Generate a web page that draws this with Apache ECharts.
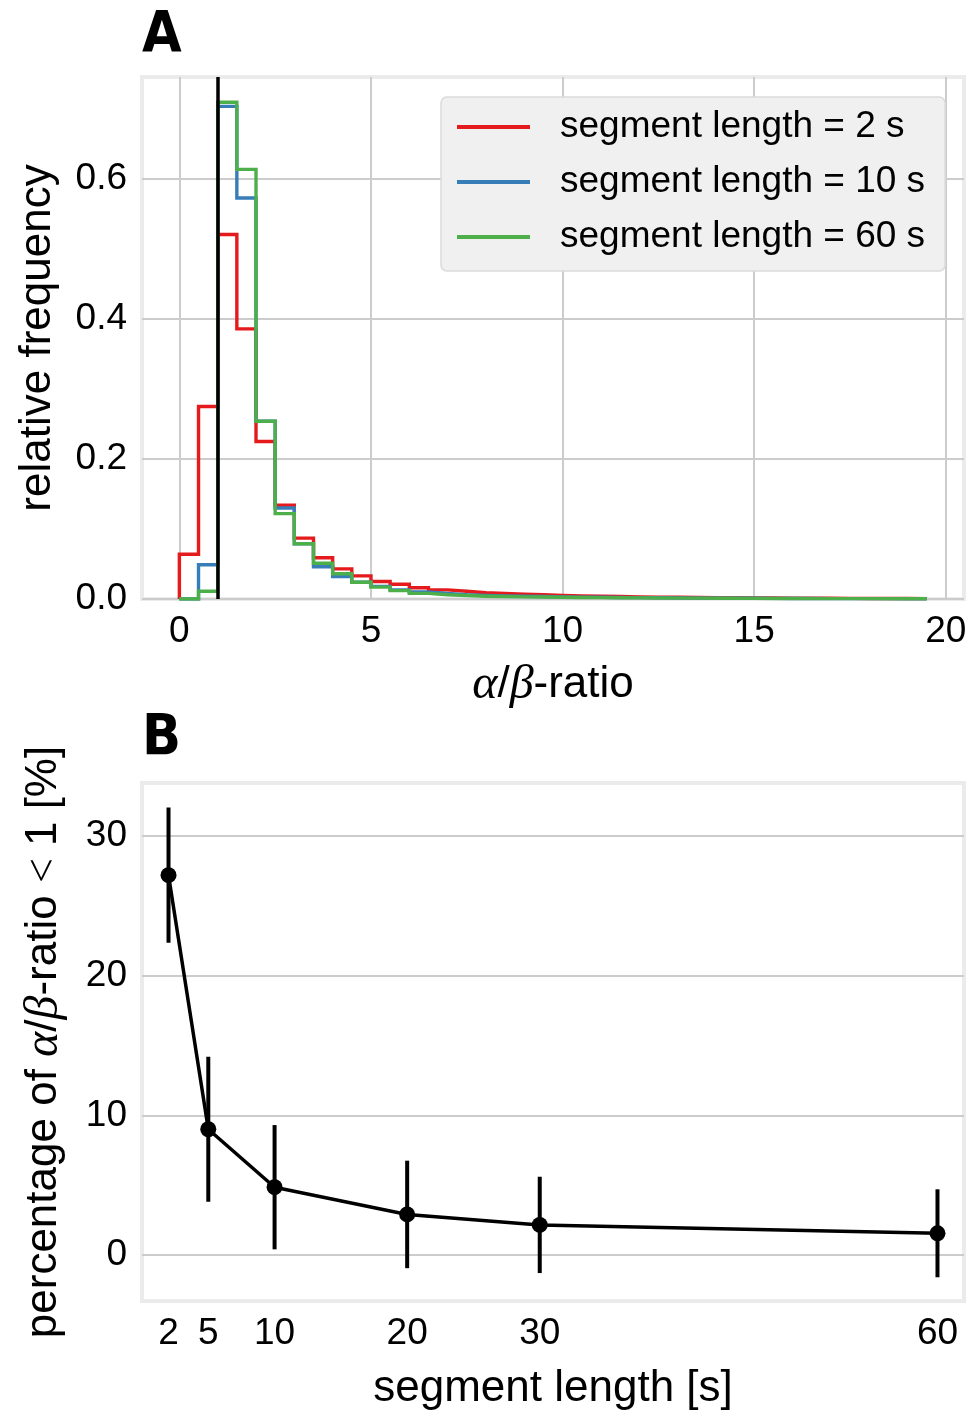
<!DOCTYPE html>
<html>
<head>
<meta charset="utf-8">
<script src="https://cdn.jsdelivr.net/npm/echarts@6/dist/echarts.min.js"></script>
<style>
  html, body { margin: 0; padding: 0; background: #fff; }
  #chart { width: 979px; height: 1412px; }
</style>
</head>
<body>
<div id="chart"></div>
<script>
// ---------- Panel A: histogram of alpha/beta ratio ----------
const binWidth = 0.5;
const binStart = 0;
const threshold = 1;
const seriesNames = ['segment length = 2 s', 'segment length = 10 s', 'segment length = 60 s'];
const seriesColors = ['#e41a1c', '#377eb8', '#4daf4a'];

const freq2s = [0.064, 0.275, 0.521, 0.386, 0.225, 0.134, 0.087, 0.059, 0.043, 0.033,
  0.025, 0.021, 0.016, 0.013, 0.011, 0.009, 0.008, 0.007, 0.006, 0.005,
  0.0045, 0.004, 0.0035, 0.003, 0.0027, 0.0024, 0.0021, 0.0019, 0.0017, 0.0015,
  0.0014, 0.0012, 0.0011, 0.001, 0.0009, 0.0008, 0.0007, 0.0007, 0.0006];
const freq10s = [0, 0.049, 0.704, 0.573, 0.254, 0.130, 0.079, 0.046, 0.032, 0.024,
  0.018, 0.013, 0.010, 0.008, 0.006, 0.005, 0.0045, 0.004, 0.0035, 0.003,
  0.0027, 0.0024, 0.0021, 0.0019, 0.0017, 0.0015, 0.0013, 0.0012, 0.0011, 0.001,
  0.0009, 0.0008, 0.0007, 0.0006, 0.0006, 0.0005, 0.0005, 0.0004, 0.0004];
const freq60s = [0, 0.011, 0.710, 0.614, 0.254, 0.122, 0.079, 0.051, 0.036, 0.024,
  0.017, 0.012, 0.008, 0.006, 0.005, 0.004, 0.0035, 0.003, 0.0028, 0.0025,
  0.0022, 0.002, 0.0018, 0.0016, 0.0014, 0.0013, 0.0012, 0.0011, 0.001, 0.0009,
  0.0008, 0.0007, 0.0006, 0.0006, 0.0005, 0.0005, 0.0004, 0.0004, 0.0003];

const histXTicks = [0, 5, 10, 15, 20];
const histYTicks = [0, 0.2, 0.4, 0.6];

// ---------- Panel B: percentage of ratio < 1 ----------
const segLengths = [2, 5, 10, 20, 30, 60];
const pctMean = [27.2, 9.0, 4.85, 2.9, 2.15, 1.55];
const pctStd = [4.85, 5.2, 4.45, 3.85, 3.45, 3.15];
const pctXTicks = [2, 5, 10, 20, 30, 60];
const pctYTicks = [0, 10, 20, 30];

// build step outlines (matplotlib histtype='step') from bins
function stepOutline(values) {
  const pts = [[binStart, 0]];
  values.forEach((v, i) => {
    const a = binStart + i * binWidth;
    pts.push([a, v]);
    pts.push([a + binWidth, v]);
  });
  pts.push([binStart + values.length * binWidth, 0]);
  return pts;
}

const FONT = '"Liberation Sans", Arial, Helvetica, sans-serif';
const MATH = '"Liberation Serif", "DejaVu Serif", serif';
const TICK = 37;
const LAB = 44;
const MLAB = 48;
const gridColor = '#cccccc';

const chart = echarts.init(document.getElementById('chart'), null, { renderer: 'canvas' });

const histSeries = [freq2s, freq10s, freq60s].map((vals, i) => ({
  name: seriesNames[i],
  type: 'line',
  xAxisIndex: 0,
  yAxisIndex: 0,
  data: stepOutline(vals),
  symbol: 'none',
  lineStyle: { color: seriesColors[i], width: 3.4, join: 'miter' },
  itemStyle: { color: seriesColors[i] },
  z: 3 + i,
  animation: false
}));

histSeries.push({
  type: 'line',
  xAxisIndex: 0,
  yAxisIndex: 0,
  data: [],
  z: 20,
  markLine: {
    silent: true,
    z: 30,
    symbol: 'none',
    label: { show: false },
    lineStyle: { color: '#000', width: 3.5, type: 'solid' },
    data: [{ xAxis: threshold }],
    animation: false
  }
});

const mathRich = {
  m: { fontFamily: MATH, fontStyle: 'italic', fontSize: MLAB, color: '#000' },
  s: { fontFamily: MATH, fontSize: LAB, color: '#000' }
};

const option = {
  animation: false,
  textStyle: { fontFamily: FONT },
  graphic: [
    { type: 'text', left: 142, top: 9, style: { text: 'A', font: 'bold 57px "DejaVu Sans Condensed", sans-serif', fill: '#000' } },
    { type: 'text', left: 142, top: 712, style: { text: 'B', font: 'bold 57px "DejaVu Sans Condensed", sans-serif', fill: '#000' } }
  ],
  grid: [
    { left: 142, top: 77, width: 822, height: 522, show: true, borderColor: '#ebebeb', borderWidth: 4, backgroundColor: 'transparent' },
    { left: 142, top: 783, width: 822, height: 520, show: true, borderColor: '#ebebeb', borderWidth: 4, backgroundColor: 'transparent' }
  ],
  legend: {
    data: seriesNames,
    orient: 'vertical',
    left: 441,
    top: 97,
    itemWidth: 73,
    itemHeight: 4,
    itemGap: 15,
    padding: [10, 20, 14, 16],
    backgroundColor: '#f0f0f0',
    borderColor: '#dadada',
    borderWidth: 1.5,
    borderRadius: 6,
    textStyle: { fontSize: TICK, fontFamily: FONT, color: '#000', lineHeight: 40, padding: [0, 0, 0, 25] },
    icon: 'rect',
    itemStyle: { borderWidth: 0 }
  },
  xAxis: [
    {
      type: 'value', gridIndex: 0, min: -0.975, max: 20.475,
      axisLine: { show: false }, 
      axisTick: { show: false, customValues: histXTicks },
      axisLabel: { customValues: histXTicks, fontSize: TICK, color: '#000', margin: 14, fontFamily: FONT },
      splitLine: { show: true, lineStyle: { color: gridColor, width: 2 } },
      name: '{m|α}/{m|β}-ratio', nameLocation: 'middle', nameGap: 62,
      nameTextStyle: { fontSize: LAB, color: '#000', fontFamily: FONT, rich: mathRich }
    },
    {
      type: 'value', gridIndex: 1, min: 0, max: 62,
      axisLine: { show: false },
      axisTick: { show: false, customValues: pctXTicks },
      axisLabel: { customValues: pctXTicks, fontSize: TICK, color: '#000', margin: 14, fontFamily: FONT },
      splitLine: { show: false },
      name: 'segment length [s]', nameLocation: 'middle', nameGap: 66,
      nameTextStyle: { fontSize: LAB, color: '#000', fontFamily: FONT }
    }
  ],
  yAxis: [
    {
      type: 'value', gridIndex: 0, min: 0, max: 0.746,
      axisLine: { show: false },
      axisTick: { show: false, customValues: histYTicks },
      axisLabel: { customValues: histYTicks, fontSize: TICK, color: '#000', margin: 15, fontFamily: FONT,
        formatter: v => v.toFixed(1) },
      splitLine: { show: true, lineStyle: { color: gridColor, width: 2 } },
      name: 'relative frequency', nameLocation: 'middle', nameGap: 82, nameRotate: 90,
      nameTextStyle: { fontSize: LAB, color: '#000', fontFamily: FONT }
    },
    {
      type: 'value', gridIndex: 1, min: -3.3, max: 33.8,
      axisLine: { show: false },
      axisTick: { show: false, customValues: pctYTicks },
      axisLabel: { customValues: pctYTicks, fontSize: TICK, color: '#000', margin: 15, fontFamily: FONT },
      splitLine: { show: true, lineStyle: { color: gridColor, width: 2 } },
      name: 'percentage of {m|α}/{m|β}-ratio {s|<} 1 [%]', nameLocation: 'middle', nameGap: 74, nameRotate: 90,
      nameTextStyle: { fontSize: LAB, color: '#000', fontFamily: FONT, rich: mathRich }
    }
  ],
  series: histSeries.concat([
    {
      type: 'custom',
      xAxisIndex: 1,
      yAxisIndex: 1,
      data: segLengths.map((x, i) => [x, pctMean[i] - pctStd[i], pctMean[i] + pctStd[i]]),
      encode: { x: 0, y: [1, 2] },
      renderItem: (params, api) => {
        const p1 = api.coord([api.value(0), api.value(1)]);
        const p2 = api.coord([api.value(0), api.value(2)]);
        return { type: 'line', shape: { x1: p1[0], y1: p1[1], x2: p2[0], y2: p2[1] },
          style: { stroke: '#000', lineWidth: 4 } };
      },
      z: 5,
      silent: true
    },
    {
      type: 'line',
      xAxisIndex: 1,
      yAxisIndex: 1,
      data: segLengths.map((x, i) => [x, pctMean[i]]),
      symbol: 'circle',
      symbolSize: 16,
      itemStyle: { color: '#000' },
      lineStyle: { color: '#000', width: 3.5 },
      z: 6
    }
  ])
};

chart.setOption(option);
</script>
</body>
</html>
